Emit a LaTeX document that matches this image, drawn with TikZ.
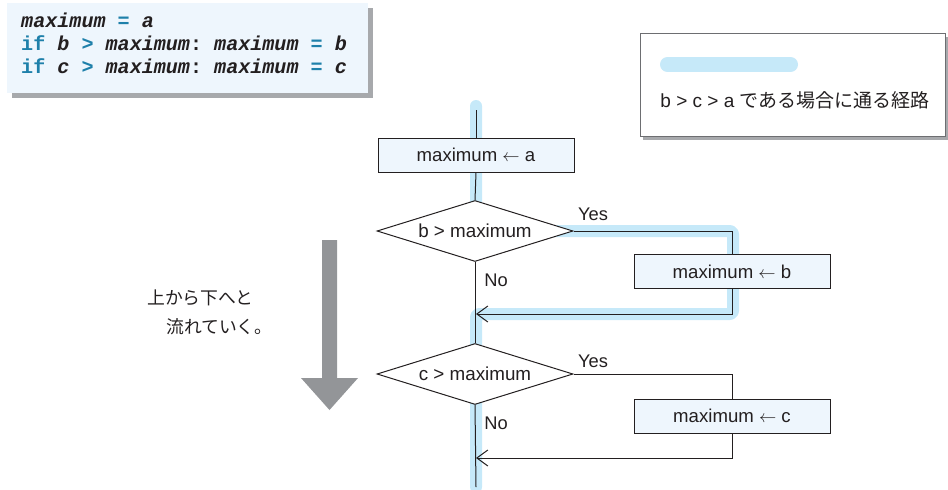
\documentclass[tikz,border=0pt]{standalone}
\usepackage{fontspec}
\setmainfont{Liberation Sans}
\setmonofont{Liberation Mono}
\newfontfamily\jpfont{Noto Sans CJK JP}
\usetikzlibrary{shapes.geometric,arrows.meta,shadows}
\definecolor{ink}{HTML}{231F20}
\definecolor{kw}{HTML}{1E80AA}
\definecolor{boxfill}{HTML}{EEF6FD}
\definecolor{hlblue}{HTML}{C6E9F9}
\definecolor{arrowgray}{HTML}{939598}
\definecolor{shadowgray}{HTML}{A7A9AC}
\definecolor{framegray}{HTML}{6D6E71}
\tikzset{
  procbox/.style={draw=ink, line width=1pt, fill=boxfill, rectangle,
    minimum width=196pt, minimum height=34pt, inner sep=0pt,
    font=\fontsize{18.6}{21}\selectfont, text=ink},
  decision/.style={draw=ink, line width=1pt, fill=white, diamond,
    shape aspect=3.2, inner sep=0pt, minimum width=196pt, minimum height=61pt,
    font=\fontsize{18.8}{21}\selectfont, text=ink},
  flow/.style={draw=ink, line width=1pt},
  flowin/.style={flow, -{Straight Barb[length=11pt,width=16pt,line width=1pt]}},
  branchlabel/.style={font=\fontsize{18.3}{21}\selectfont, text=ink, inner sep=0pt},
  hl/.style={draw=hlblue, line width=12pt, line cap=round, line join=round, rounded corners=3pt},
  codeline/.style={anchor=base west, inner sep=0pt, text=ink,
    font=\ttfamily\bfseries\fontsize{20.1}{23}\selectfont},
}
\newcommand{\kwd}[1]{\textcolor{kw}{\upshape #1}}
\newcommand{\idf}[1]{\textit{#1}}
\begin{document}
\begin{tikzpicture}[x=1pt,y=-1pt]
\useasboundingbox (0,0) rectangle (948,490);

% code panel
\node[rectangle, fill=boxfill, minimum width=361pt, minimum height=90pt, inner sep=0pt,
  drop shadow={shadow xshift=5pt, shadow yshift=-5pt, fill=shadowgray, opacity=1}]
  (codebox) at (187.5,47.5) {};
\node[codeline] (code1) at (21,27) {\idf{maximum} \kwd{=} \idf{a}};
\node[codeline] (code2) at (21,50) {\kwd{if} \idf{b} \kwd{>} \idf{maximum}: \idf{maximum} \kwd{=} \idf{b}};
\node[codeline] (code3) at (21,73) {\kwd{if} \idf{c} \kwd{>} \idf{maximum}: \idf{maximum} \kwd{=} \idf{c}};

% legend
\node[rectangle, draw=framegray, line width=1pt, fill=white, minimum width=305pt,
  minimum height=103pt, inner sep=0pt,
  drop shadow={shadow xshift=3pt, shadow yshift=-4pt, fill=shadowgray, opacity=1}]
  (legend) at (792.5,84.5) {};
\draw[draw=hlblue, line width=15pt, line cap=round] (667.5,64.5) coordinate (barl) -- (790.5,64.5) coordinate (barr);
\node[font=\fontsize{19}{21}\selectfont, text=ink, inner sep=0pt] (legtext) at (795,100)
  {b > c > a {\jpfont である場合に通る経路}};

% coordinates on the main line
\coordinate (start) at (476,110);
\coordinate (hlstart) at (476,106);
\coordinate (m1) at (476,314);
\coordinate (m2) at (476,458);
\coordinate (finish) at (476,487);

% path taken when b > c > a
\draw[hl] (hlstart) -- (476,231) -- (733,231) -- (733,314) -- (m1) -- (finish);

% flowchart
\node[procbox] (box1) at (476,155) {maximum $\leftarrow$ a};
\node[decision] (d1) at (475,231) {b > maximum};
\node[procbox] (box2) at (732,271.5) {maximum $\leftarrow$ b};
\node[decision] (d2) at (475,374) {c > maximum};
\node[procbox] (box3) at (732,416) {maximum $\leftarrow$ c};

\draw[flow] (start) -- (box1.north);
\draw[flow] (box1.south) -- (d1.north);
\draw[flow] (d1.east) -| (box2.north);
\draw[flowin] (box2.south) |- (m1);
\draw[flow] (d1.south) -- (d2.north);
\draw[flow] (d2.east) -| (box3.north);
\draw[flowin] (box3.south) |- (m2);
\draw[flow] (d2.south) -- (finish);

\node[branchlabel] (yes1) at (593,214) {Yes};
\node[branchlabel] (no1) at (496,280) {No};
\node[branchlabel] (yes2) at (593,361) {Yes};
\node[branchlabel] (no2) at (496,423) {No};

% direction of flow
\fill[arrowgray] (322,240) -- (337,240) -- (337,378) -- (358,378) -- (329.5,410)
  -- (301,378) -- (322,378) -- cycle;
\node[font=\jpfont\fontsize{17.8}{20}\selectfont, text=ink, anchor=west, inner sep=0pt]
  (flowtext1) at (147,298) {上から下へと};
\node[font=\jpfont\fontsize{17.8}{20}\selectfont, text=ink, anchor=west, inner sep=0pt]
  (flowtext2) at (166,327) {流れていく。};
\end{tikzpicture}
\end{document}
